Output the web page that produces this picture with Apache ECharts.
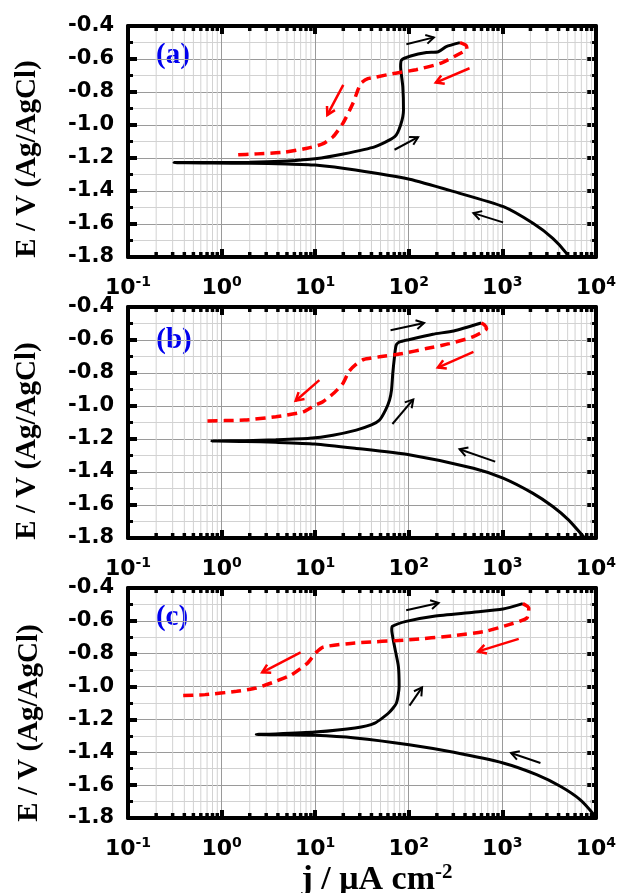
<!DOCTYPE html>
<html><head><meta charset="utf-8">
<script src="https://cdn.jsdelivr.net/npm/echarts@6/dist/echarts.min.js"></script>
<style>html,body{margin:0;padding:0;background:#fff}#c{width:619px;height:893px}</style>
</head><body><div id="c"></div>
<script>
// ---- data (j in µA cm^-2, E in V vs Ag/AgCl) ----
const xTickValues = [0.1, 1, 10, 100, 1000, 10000];
const yTickLabels = ['-0.4','-0.6','-0.8','-1.0','-1.2','-1.4','-1.6','-1.8'];
const panelLabels = ['(a)', '(b)', '(c)'];

const aBlack = [[4950,-1.80],[4860,-1.778],[3470,-1.687],[2133,-1.596],[1030,-1.495],[305,-1.404],[102,-1.329],[27,-1.273],[10,-1.243],[5,-1.236],[2,-1.232],[0.31,-1.228],
  [2,-1.226],[5,-1.218],[10,-1.205],[20,-1.176],[43.9,-1.131],[71,-1.071],[82,-1.0],[88,-0.909],[86.5,-0.768],[82,-0.646],[84,-0.606],[105,-0.582],[155,-0.561],[207,-0.556],[252,-0.525],[353,-0.501]];
const aRed = [[353,-0.501],[411,-0.518],[420,-0.54],[349,-0.568],[222,-0.625],[120,-0.665],[67,-0.689],[44.7,-0.71],[36.6,-0.719],[31,-0.745],[29,-0.78],[25.3,-0.87],[19.8,-0.99],[15.5,-1.072],[12,-1.115],[8.0,-1.142],[4.7,-1.165],[2.4,-1.175],[1.33,-1.182]];
const aBlackArrows = [[94.4,-0.511,186,-0.469],[70.5,-1.15,126,-1.074],[1020,-1.59,492,-1.534]];
const aRedArrows = [[447,-0.656,195,-0.743],[20,-0.757,13.5,-0.939]];

const bBlack = [[7500,-1.80],[7330,-1.79],[5070,-1.689],[3440,-1.608],[2110,-1.528],[1020,-1.437],[492,-1.377],[101,-1.296],[26.7,-1.256],[9.9,-1.23],[3.8,-1.22],[1.8,-1.215],[0.785,-1.212],
  [1.8,-1.21],[3.8,-1.205],[8.7,-1.196],[15.5,-1.177],[27.5,-1.146],[40,-1.115],[48.8,-1.085],[56.5,-1.025],[62.4,-0.964],[65.5,-0.904],[67.6,-0.803],[70.5,-0.702],[73.4,-0.632],[79.8,-0.612],[100,-0.598],[181,-0.565],[303,-0.545],[596,-0.497]];
const bRed = [[596,-0.497],[646,-0.509],[680,-0.53],[484,-0.581],[273,-0.622],[154,-0.652],[86.5,-0.682],[48.8,-0.702],[33,-0.718],[27.5,-0.746],[23,-0.79],[19.8,-0.863],[16,-0.92],[12.1,-0.974],[10,-0.995],[7.4,-1.036],[3.8,-1.065],[1.76,-1.085],[0.634,-1.091]];
const bBlackArrows = [[64,-0.541,146,-0.497],[67,-1.109,112,-0.96],[840,-1.337,350,-1.262]];
const bRedArrows = [[492,-0.672,205,-0.767],[11.1,-0.843,6.2,-0.968]];

const cBlack = [[9800,-1.80],[9530,-1.78],[6780,-1.688],[4170,-1.607],[2330,-1.536],[1020,-1.465],[303,-1.40],[101,-1.354],[26.7,-1.313],[9.9,-1.297],[3.8,-1.293],[2.35,-1.291],
  [3.8,-1.288],[9.9,-1.277],[26.7,-1.252],[43.4,-1.222],[61,-1.161],[74,-1.10],[79,-0.999],[77.6,-0.877],[70.5,-0.755],[65.9,-0.654],[67,-0.633],[94,-0.603],[186,-0.572],[492,-0.548],[1020,-0.528],[1660,-0.495]];
const cRed = [[1660,-0.495],[1920,-0.522],[1830,-0.583],[1180,-0.623],[659,-0.664],[303,-0.69],[101,-0.715],[26.7,-0.735],[12.3,-0.759],[10.1,-0.796],[8.3,-0.857],[5.6,-0.928],[3.8,-0.968],[2.35,-1.009],[1.45,-1.029],[0.665,-1.049],[0.354,-1.055]];
const cBlackArrows = [[94,-0.536,209,-0.491],[102,-1.116,139,-1.005],[2560,-1.465,1240,-1.404]];
const cRedArrows = [[1500,-0.71,553,-0.786],[7.0,-0.792,2.72,-0.913]];

// minor x tick positions (2..9 x 10^k)
const minorX = [];
for (let k = -1; k < 4; k++) for (let m = 2; m <= 9; m++) minorX.push([m * Math.pow(10, k), -1.8]);

// ---- layout ----
const panels = [
  {top: 26, height: 231, black: aBlack, red: aRed, ba: aBlackArrows, ra: aRedArrows},
  {top: 307, height: 231, black: bBlack, red: bRed, ba: bBlackArrows, ra: bRedArrows},
  {top: 588, height: 230, black: cBlack, red: cRed, ba: cBlackArrows, ra: cRedArrows}
];
const X_MIN = xTickValues[0], X_MAX = xTickValues[xTickValues.length-1];
const Y_MIN = -1.8, Y_MAX = -0.4;

const grids = [], xAxes = [], yAxes = [], series = [];
function arrowRender(color, width) {
  return function (params, api) {
    const t = api.coord([api.value(0), api.value(1)]);
    const h = api.coord([api.value(2), api.value(3)]);
    const ang = Math.atan2(h[1] - t[1], h[0] - t[0]);
    const L = 9, A = Math.PI / 6;
    const p1 = [h[0] - L * Math.cos(ang - A), h[1] - L * Math.sin(ang - A)];
    const p2 = [h[0] - L * Math.cos(ang + A), h[1] - L * Math.sin(ang + A)];
    return {type: 'group', children: [
      {type: 'line', shape: {x1: t[0], y1: t[1], x2: h[0], y2: h[1]}, style: {stroke: color, lineWidth: width}},
      {type: 'polyline', shape: {points: [p1, h, p2]}, style: {stroke: color, lineWidth: width, fill: null}}
    ]};
  };
}
function minorRender(params, api) {
  const x = api.value(0);
  const b = api.coord([x, Y_MIN]);
  const t = api.coord([x, Y_MAX]);
  return {type: 'group', children: [
    {type: 'line', shape: {x1: b[0], y1: b[1] - 2, x2: t[0], y2: t[1] + 2}, style: {stroke: '#d2d2d2', lineWidth: 1}},
    {type: 'line', shape: {x1: b[0], y1: b[1], x2: b[0], y2: b[1] - 5}, style: {stroke: '#000', lineWidth: 3.5}},
    {type: 'line', shape: {x1: t[0], y1: t[1], x2: t[0], y2: t[1] + 5}, style: {stroke: '#000', lineWidth: 3.5}}
  ]};
}

panels.forEach((p, i) => {
  grids.push({left: 128, right: 22, top: p.top, height: p.height, containLabel: false});
  const xb = xAxes.length;
  xAxes.push({
    type: 'log', logBase: 10, gridIndex: i, min: X_MIN, max: X_MAX, position: 'bottom',
    axisLine: {show: true, onZero: false, lineStyle: {color: '#000', width: 4}},
    axisTick: {show: true, inside: true, length: 8, lineStyle: {color: '#000', width: 4}},
    axisLabel: {
      show: true, margin: 18,
      formatter: v => '{b|10}{s|' + Math.round(Math.log10(v)) + '}',
      rich: {
        b: {fontFamily: 'DejaVu Sans', fontWeight: 'bold', fontSize: 22, color: '#000', lineHeight: 26},
        s: {fontFamily: 'DejaVu Sans', fontWeight: 'bold', fontSize: 14, color: '#000', lineHeight: 14, verticalAlign: 'top'}
      }
    },
    splitLine: {show: true, lineStyle: {color: '#9a9a9a', width: 1}}
  });
  xAxes.push({
    type: 'log', logBase: 10, gridIndex: i, min: X_MIN, max: X_MAX, position: 'top',
    axisLine: {show: true, onZero: false, lineStyle: {color: '#000', width: 4}},
    axisTick: {show: true, inside: true, length: 8, lineStyle: {color: '#000', width: 4}},
    axisLabel: {show: false}, splitLine: {show: false}
  });
  const yl = yAxes.length;
  yAxes.push({
    type: 'value', gridIndex: i, min: Y_MIN, max: Y_MAX, interval: 0.2, position: 'left',
    axisLine: {show: true, onZero: false, lineStyle: {color: '#000', width: 4}},
    axisTick: {show: true, inside: true, length: 9, lineStyle: {color: '#000', width: 4}},
    minorTick: {show: true, splitNumber: 2, length: 5, lineStyle: {color: '#000', width: 3}},
    axisLabel: {formatter: v => v.toFixed(1), fontFamily: 'DejaVu Sans', fontWeight: 'bold', fontSize: 21, color: '#000', margin: 14},
    splitLine: {show: true, lineStyle: {color: '#9a9a9a', width: 1}},
    minorSplitLine: {show: true, lineStyle: {color: '#d2d2d2', width: 1}}
  });
  yAxes.push({
    type: 'value', gridIndex: i, min: Y_MIN, max: Y_MAX, interval: 0.2, position: 'right',
    axisLine: {show: true, onZero: false, lineStyle: {color: '#000', width: 4}},
    axisTick: {show: true, inside: true, length: 9, lineStyle: {color: '#000', width: 4}},
    minorTick: {show: true, splitNumber: 2, length: 5, lineStyle: {color: '#000', width: 3}},
    axisLabel: {show: false}, splitLine: {show: false}
  });
  series.push({type: 'custom', xAxisIndex: xb, yAxisIndex: yl, data: minorX, renderItem: minorRender, encode: {x: 0, y: 1}, z: 1, silent: true});
  series.push({type: 'line', xAxisIndex: xb, yAxisIndex: yl, data: p.black, showSymbol: false, smooth: 0.2, clip: true,
    lineStyle: {color: '#000', width: 3}, z: 3});
  series.push({type: 'line', xAxisIndex: xb, yAxisIndex: yl, data: p.red, showSymbol: false, smooth: 0.2, clip: true,
    lineStyle: {color: '#ff0000', width: 3.5, type: [10, 6]}, z: 4});
  series.push({type: 'custom', xAxisIndex: xb, yAxisIndex: yl, data: p.ba, renderItem: arrowRender('#000', 2), encode: {x: [0, 2], y: [1, 3]}, z: 5, silent: true});
  series.push({type: 'custom', xAxisIndex: xb, yAxisIndex: yl, data: p.ra, renderItem: arrowRender('#ff0000', 2.5), encode: {x: [0, 2], y: [1, 3]}, z: 5, silent: true});
});

const yTitleCenters = [[28, 159], [28, 441], [30, 723]];
const labelPos = [[173, 56], [174, 341], [172, 618]];
const graphic = [];
yTitleCenters.forEach(c => graphic.push({
  type: 'text', x: c[0], y: c[1], rotation: Math.PI / 2,
  style: {text: 'E / V (Ag/AgCl)', font: 'bold 29px "Liberation Serif", "Times New Roman", serif', fill: '#000', align: 'center', verticalAlign: 'middle'}
}));
labelPos.forEach((c, i) => graphic.push({
  type: 'text', x: c[0], y: c[1],
  style: {text: panelLabels[i], font: 'bold 29px "Liberation Serif", "Times New Roman", serif', fill: '#0000ee', align: 'center', verticalAlign: 'middle'}
}));
graphic.push({
  type: 'text', x: 377, y: 880,
  style: {
    text: '{m|j / μA cm}{s|-2}', align: 'center', verticalAlign: 'middle',
    rich: {
      m: {font: 'bold 34px "Liberation Serif", "Times New Roman", serif', fill: '#000', lineHeight: 36},
      s: {font: 'bold 21px "Liberation Serif", "Times New Roman", serif', fill: '#000', lineHeight: 21, verticalAlign: 'top'}
    }
  }
});

const chart = echarts.init(document.getElementById('c'), null, {renderer: 'canvas'});
chart.setOption({animation: false, backgroundColor: '#fff', grid: grids, xAxis: xAxes, yAxis: yAxes, series: series, graphic: graphic});
</script></body></html>
